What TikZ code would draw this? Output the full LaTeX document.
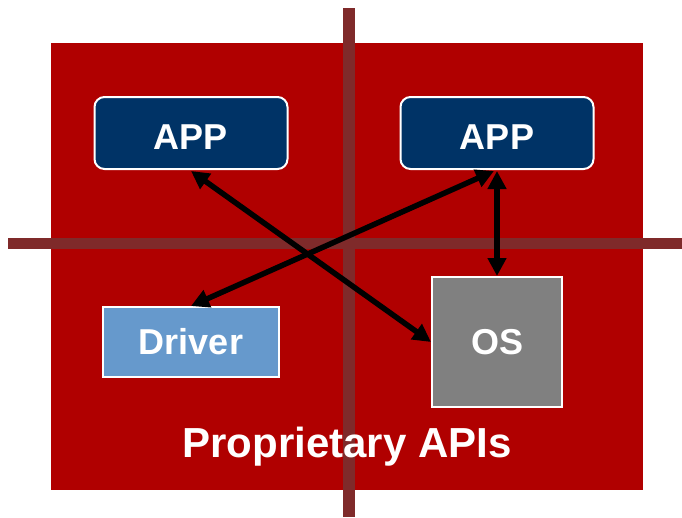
\documentclass[tikz,border=0pt]{standalone}
\usepackage{fontspec}
\setmainfont{Liberation Sans}
\usetikzlibrary{arrows.meta}
\definecolor{bgred}{HTML}{B00000}
\definecolor{barred}{HTML}{7F2A2A}
\definecolor{appblue}{HTML}{003366}
\definecolor{drvblue}{HTML}{6699CC}
\definecolor{osgray}{HTML}{808080}
\tikzset{
  box/.style={draw=white, line width=2pt, text=white, font=\fontsize{36}{40}\selectfont\bfseries, inner sep=0pt},
  appbox/.style={box, fill=appblue, rounded corners=10pt, minimum width=193pt, minimum height=72pt, text height=33pt, text depth=0pt},
  drvbox/.style={box, fill=drvblue, minimum width=176pt, minimum height=70pt},
  osbox/.style={box, fill=osgray, minimum width=130pt, minimum height=130pt},
  bar/.style={fill=barred},
  link/.style={line width=5.5pt, {Triangle[length=18pt,width=18pt]}-{Triangle[length=18pt,width=18pt]}}
}
\begin{document}
\begin{tikzpicture}[x=1pt,y=-1pt]
  \useasboundingbox (0,0) rectangle (682,517);
  % background panel and dividing bars
  \fill[bgred] (51,43) rectangle (643,490);
  \fill[bar] (343,8) rectangle (355,517);
  \fill[bar] (8,238) rectangle (682,249);
  % components
  \node[appbox] (app1) at (191,133) {APP};
  \node[appbox] (app2) at (497,133) {APP};
  \node[drvbox] (drv) at (191,342) {Driver};
  \node[osbox] (os) at (497,342) {OS};
  % interfaces
  \draw[link] ([yshift=-1pt]app1.south) -- (os.west);
  \draw[link] ([xshift=-3pt,yshift=-1pt]app2.south) -- (drv.north);
  \draw[link] ([yshift=-1pt]app2.south) -- (os.north);
  \node[text=white, font=\fontsize{42}{46}\selectfont\bfseries, anchor=base] (label) at (347,457) {Proprietary APIs};
\end{tikzpicture}
\end{document}
